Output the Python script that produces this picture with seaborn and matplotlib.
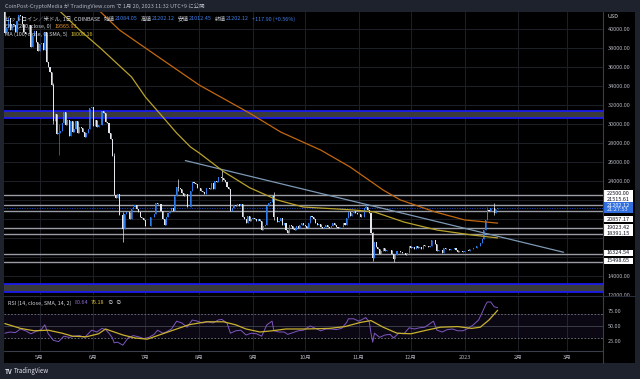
import numpy as np
import pandas as pd
import matplotlib
matplotlib.use('Agg')
import matplotlib.pyplot as plt
from matplotlib.patches import Rectangle
from matplotlib.lines import Line2D
from matplotlib.transforms import blended_transform_factory
import seaborn as sns

# ---- データ (チャートから読み取り) ----
first_open = 42750
close_apr = [42150, 39530, 40070, 41150, 39940, 40550, 40410, 39720, 40830, 41500, 41370,
             40480, 39710, 39470, 39450, 40430, 38120, 39240, 39740, 38600, 37640]  # 4/10-4/30
close_may = [38470, 38530, 37750, 39690, 36550, 36010, 35470, 34060, 30300, 31020, 28940,
             29050, 29280, 30100, 31300, 29860, 30420, 28720, 30290, 29200, 29430, 30310,
             29100, 29650, 29540, 29200, 28630, 29030, 29470, 31730, 31800]
close_jun = [29800, 30450, 29700, 29860, 29910, 31370, 31130, 30210, 30110, 29090, 28380,
             26580, 22490, 22200, 22590, 20390, 20450, 19000, 20560, 20710, 20720, 19990,
             21100, 21230, 21500, 21030, 20730, 20250, 20100, 19930]
close_jul = [19300, 19250, 19300, 20230, 20190, 20550, 21640, 21580, 21590, 20850, 19960,
             19330, 20240, 20580, 20830, 21200, 20790, 22420, 23400, 23230, 23160, 22690,
             22450, 22580, 21310, 21250, 22950, 23850, 23780, 23640, 23300]
close_aug = [23270, 22990, 22820, 22620, 23310, 23260, 23170, 23810, 23160, 23950, 23940,
             24400, 24440, 24300, 24100, 23860, 23340, 23200, 20830, 21140, 21520, 21400,
             21530, 21370, 21560, 20240, 20030, 19550, 20290, 19800, 20050]
close_sep = [20130, 19950, 19830, 20000, 19800, 18790, 19290, 19320, 21370, 21650, 21830,
             22400, 20170, 20230, 19700, 19800, 20110, 19420, 19540, 18880, 18480, 19400,
             19290, 18920, 18800, 19220, 19080, 19410, 19590, 19420]
close_oct = [19310, 19060, 19630, 20340, 20160, 19960, 19530, 19420, 19450, 19130, 19060,
             19160, 19380, 19180, 19070, 19270, 19550, 19330, 19120, 19040, 19170, 19210,
             19570, 19330, 20090, 20770, 20290, 20600, 20820, 20630, 20490]
close_nov = [20480, 20160, 20210, 21150, 21300, 20910, 20590, 18540, 15880, 17590, 17070,
             16810, 16330, 16620, 16900, 16660, 16690, 16700, 16700, 16280, 15780, 16230,
             16600, 16600, 16520, 16460, 16440, 16220, 16440, 17170]
close_dec = [16980, 17090, 16890, 17110, 16970, 17090, 16840, 17220, 17130, 17130, 17090,
             17210, 17780, 17810, 17360, 16630, 16780, 16740, 16440, 16900, 16820, 16830,
             16780, 16840, 16830, 16920, 16710, 16540, 16630, 16600, 16540]
close_jan = [16620, 16680, 16670, 16850, 16830, 16950, 16940, 17120, 17180, 17440, 17940,
             18850, 19930, 20950, 20880, 21190, 21130, 20680, 21084.05, 21202.12]

# ヒゲ (安値, 高値) が目立つ日
wick_days = ['2022-05-09', '2022-05-12', '2022-06-13', '2022-06-18', '2022-07-20', '2022-08-14',
             '2022-09-13', '2022-11-05', '2022-11-09', '2022-11-21', '2023-01-14', '2023-01-18',
             '2023-01-20']
wick_low = [30000, 26700, 22600, 17600, 22900, 24000, 19900, 21100, 15600, 15480, 19900, 20400, 21012.45]
wick_high = [34300, 30000, 26900, 20700, 24250, 25200, 22800, 21480, 18600, 16300, 21260, 21650, 21202.12]

ema_dates = ['2022-05-31', '2022-06-16', '2022-07-01', '2022-08-01', '2022-08-30', '2022-09-17',
             '2022-10-10', '2022-10-27', '2022-11-15', '2022-11-25', '2022-12-15', '2023-01-01',
             '2023-01-20']
ema_vals = [42700, 39900, 38000, 34100, 31150, 29150, 27260, 25470, 23050, 22000, 20740, 19900, 19565.93]

sma_dates = ['2022-05-12', '2022-05-24', '2022-06-05', '2022-06-23', '2022-07-01', '2022-07-09',
             '2022-07-19', '2022-07-27', '2022-08-01', '2022-08-15', '2022-08-30', '2022-09-15',
             '2022-09-30', '2022-10-29', '2022-11-10', '2022-11-27', '2022-12-16', '2023-01-05',
             '2023-01-20']
sma_vals = [42000, 39900, 38000, 34950, 32840, 31160, 29050, 27580, 26950, 25000, 23300, 22000,
            21260, 20950, 20740, 19680, 18840, 18320, 18008.16]

trend_dates = ['2022-07-24', '2023-02-27']
trend_prices = [26150, 16500]

levels = [22500.00, 21515.61, 20857.17, 19023.42, 18391.15, 16324.54, 15498.65]
zone_top = [31400, 13190]
zone_bottom = [30600, 12280]
last_price = 21202.12
countdown = '21:27:53'

rsi_dates = ['2022-04-11', '2022-04-14', '2022-04-17', '2022-04-20', '2022-04-23', '2022-04-26',
             '2022-04-29', '2022-05-02', '2022-05-04', '2022-05-06', '2022-05-09', '2022-05-12',
             '2022-05-15', '2022-05-18', '2022-05-21', '2022-05-24', '2022-05-27', '2022-05-31',
             '2022-06-03', '2022-06-06', '2022-06-08', '2022-06-10', '2022-06-12', '2022-06-13',
             '2022-06-15', '2022-06-18', '2022-06-21', '2022-06-24', '2022-06-27', '2022-06-30',
             '2022-07-03', '2022-07-06', '2022-07-08', '2022-07-11', '2022-07-13', '2022-07-16',
             '2022-07-19', '2022-07-22', '2022-07-25', '2022-07-28', '2022-07-31', '2022-08-03',
             '2022-08-06', '2022-08-09', '2022-08-12', '2022-08-14', '2022-08-17', '2022-08-19',
             '2022-08-22', '2022-08-25', '2022-08-28', '2022-08-31', '2022-09-03', '2022-09-06',
             '2022-09-09', '2022-09-12', '2022-09-13', '2022-09-16', '2022-09-19', '2022-09-21',
             '2022-09-24', '2022-09-27', '2022-09-30', '2022-10-04', '2022-10-07', '2022-10-10',
             '2022-10-13', '2022-10-16', '2022-10-19', '2022-10-22', '2022-10-25', '2022-10-26',
             '2022-10-29', '2022-11-01', '2022-11-05', '2022-11-07', '2022-11-08', '2022-11-09',
             '2022-11-10', '2022-11-13', '2022-11-16', '2022-11-19', '2022-11-21', '2022-11-24',
             '2022-11-27', '2022-11-30', '2022-12-03', '2022-12-06', '2022-12-09', '2022-12-14',
             '2022-12-16', '2022-12-19', '2022-12-22', '2022-12-25', '2022-12-28', '2022-12-31',
             '2023-01-03', '2023-01-06', '2023-01-09', '2023-01-11', '2023-01-13', '2023-01-14',
             '2023-01-16', '2023-01-18', '2023-01-20']
rsi_vals = [38, 40, 39, 45, 42, 37, 41, 44, 52, 37, 26, 24, 33, 31, 33, 34, 31, 43, 40, 46,
            44, 38, 30, 22, 23, 18, 30, 34, 32, 29, 31, 36, 43, 38, 40, 45, 58, 55, 48, 60,
            58, 55, 57, 55, 60, 61, 55, 38, 42, 43, 35, 38, 37, 33, 52, 58, 42, 40, 40, 36,
            39, 42, 43, 50, 46, 42, 45, 45, 44, 46, 56, 62, 62, 58, 64, 57, 38, 23, 38, 31,
            35, 36, 30, 38, 37, 47, 45, 47, 48, 58, 43, 40, 44, 45, 42, 42, 46, 52, 60, 72,
            85, 90, 90, 82, 80.64]

rsi_ma_dates = ['2022-04-11', '2022-04-20', '2022-04-28', '2022-05-06', '2022-05-14', '2022-05-20',
                '2022-05-28', '2022-06-04', '2022-06-08', '2022-06-18', '2022-06-25', '2022-07-02',
                '2022-07-10', '2022-07-18', '2022-07-26', '2022-08-05', '2022-08-15', '2022-08-22',
                '2022-08-28', '2022-09-05', '2022-09-12', '2022-09-20', '2022-10-01', '2022-10-15',
                '2022-10-24', '2022-11-02', '2022-11-08', '2022-11-15', '2022-11-23', '2022-12-01',
                '2022-12-10', '2022-12-18', '2022-12-28', '2023-01-05', '2023-01-10', '2023-01-15',
                '2023-01-20']
rsi_ma_vals = [54, 46, 42, 43, 38, 33, 32, 37, 45, 35, 30, 28, 36, 44, 52, 57, 57, 52, 45, 40,
               42, 45, 45, 46, 49, 56, 59, 48, 38, 37, 43, 48, 49, 46, 48, 60, 76.18]

month_labels = ['5月', '6月', '7月', '8月', '9月', '10月', '11月', '12月', '2023', '2月', '3月']

# ---- スタイル ----
sns.set_style('dark')
plt.rcParams['font.family'] = ['Noto Sans CJK JP', 'DejaVu Sans']
plt.rcParams['axes.unicode_minus'] = False

UP, DOWN = '#2f7ce8', '#e3e6ec'
GRID = '#1d2027'
TXT = '#b2b5be'
LEG = '#d1d4dc'
FS = 4.0

closes = np.array(close_apr + close_may + close_jun + close_jul + close_aug + close_sep +
                  close_oct + close_nov + close_dec + close_jan, dtype=float)
dates = pd.date_range('2022-04-10', periods=len(closes), freq='D')
opens = np.r_[first_open, closes[:-1]]
df = pd.DataFrame({'open': opens, 'close': closes,
                   'low': np.minimum(opens, closes), 'high': np.maximum(opens, closes)}, index=dates)
for d, lo, hi in zip(wick_days, wick_low, wick_high):
    df.loc[d, 'low'] = lo
    df.loc[d, 'high'] = hi

W, H = 640, 379
fig = plt.figure(figsize=(6.4, 3.79), dpi=100, facecolor='#1e222d')


def fx(px):
    return px / W


def fy(py):
    return 1 - py / H


bg = fig.add_axes([fx(4), fy(363), (635 - 4) / W, (363 - 12) / H])
bg.set_facecolor('black')
bg.set_xticks([])
bg.set_yticks([])
for s in bg.spines.values():
    s.set_visible(False)

ax = fig.add_axes([fx(4), fy(295), (603 - 4) / W, (295 - 12) / H])
axr = fig.add_axes([fx(4), fy(351), (603 - 4) / W, (351 - 296) / H])

xlim = (pd.Timestamp('2022-04-10 12:00'), pd.Timestamp('2023-03-21 17:00'))
months = pd.date_range('2022-05-01', '2023-03-01', freq='MS')

for a in (ax, axr):
    a.set_facecolor('black')
    for s in a.spines.values():
        s.set_visible(False)
    a.set_xlim(*xlim)
    a.set_xticks(months)
    a.grid(axis='x', color=GRID, lw=0.7)
    a.yaxis.tick_right()
    a.tick_params(axis='y', length=0, pad=3.4, labelsize=FS, labelcolor=TXT)

# ---- メインペイン ----
ax.set_ylim(12000, 41790)
ax.set_yticks(np.arange(12000, 40001, 2000))
ax.set_yticklabels(['' if 15000 < v < 23000 else f'{v:.2f}' for v in np.arange(12000, 40001, 2000)])
ax.grid(axis='y', color=GRID, lw=0.7)
ax.tick_params(axis='x', length=0, labelbottom=False)

for top, bot in zip(zone_top, zone_bottom):
    ax.axhspan(bot, top, color='#3b3b3b', lw=0, zorder=1)
    ax.axhline(top, color='#1a1aff', lw=1.2, zorder=2)
    ax.axhline(bot, color='#1a1aff', lw=1.2, zorder=2)

for lv in levels:
    ax.axhline(lv, color='#9a9da6', lw=1.0, zorder=2)
ax.axhline(last_price, color='#2962ff', lw=0.6, ls=(0, (1.5, 1.5)), alpha=0.8, zorder=2)

cols = np.where(df['close'] >= df['open'], UP, DOWN)
ax.vlines(df.index, df['low'], df['high'], colors=cols, lw=0.5, zorder=3)
ax.bar(df.index, np.maximum((df['close'] - df['open']).abs(), 30),
       bottom=np.minimum(df['open'], df['close']), width=0.62, color=cols, lw=0, zorder=3)

sns.lineplot(x=pd.to_datetime(trend_dates), y=trend_prices, ax=ax, color='#7d99b5', lw=0.9, zorder=4)
sns.lineplot(x=pd.to_datetime(ema_dates), y=ema_vals, ax=ax, color='#c2680e', lw=0.9, zorder=4)
sns.lineplot(x=pd.to_datetime(sma_dates), y=sma_vals, ax=ax, color='#b9a22c', lw=0.9, zorder=4)
ax.set_xlabel('')
ax.set_ylabel('')

# ---- RSI ペイン ----
axr.set_ylim(8.3, 100)
axr.set_yticks([25, 50, 75])
axr.set_yticklabels(['25.00', '50.00', '75.00'])
axr.axhspan(30, 70, color='#7e57c2', alpha=0.1, lw=0)
axr.axhline(70, color='#787b86', lw=0.6, ls=(0, (2, 2)))
axr.axhline(30, color='#787b86', lw=0.6, ls=(0, (2, 2)))
axr.axhline(50, color='#3a3c48', lw=0.7)
sns.lineplot(x=pd.to_datetime(rsi_dates), y=rsi_vals, ax=axr, color='#7e57c2', lw=0.7, zorder=4)
sns.lineplot(x=pd.to_datetime(rsi_ma_dates), y=rsi_ma_vals, ax=axr, color='#c9b22f', lw=0.9, zorder=4)
axr.set_xlabel('')
axr.set_ylabel('')
axr.set_xticklabels(month_labels)
axr.tick_params(axis='x', length=0, pad=2.6, labelsize=FS, labelcolor=TXT)

# ---- 区切り線 ----
fig.add_artist(Line2D([fx(603), fx(603)], [fy(12), fy(363)], color='#3a3e48', lw=0.8))
fig.add_artist(Line2D([fx(4), fx(635)], [fy(295.5), fy(295.5)], color='#2a2e39', lw=0.8))
fig.add_artist(Line2D([fx(4), fx(603)], [fy(351), fy(351)], color='#3a3e48', lw=0.8))

# ---- 価格ラベル ----
tr = blended_transform_factory(ax.transAxes, ax.transData)
upx = (41790 - 12000) / 283.0
bw = 30 / 599.0
tag_shift = [2.25, 5.6, -8.4, 1.1, 0.8, 1.4, 1.0]
for lv, sh in zip(levels, tag_shift):
    yc = lv + sh * upx
    ax.add_patch(Rectangle((1.0, yc - 3 * upx), bw, 6 * upx, transform=tr, fc='white', ec='none',
                           clip_on=False, zorder=10))
    ax.text(1.0 + 4 / 599, yc, f'{lv:.2f}', transform=tr, fontsize=FS, color='#131722',
            va='center', ha='left', clip_on=False, zorder=11)
ax.add_patch(Rectangle((1.0, last_price - 5.2 * upx), bw, 10.4 * upx, transform=tr, fc='#2f6fe0',
                       ec='none', clip_on=False, zorder=10))
ax.text(1.0 + 4 / 599, last_price + 2.3 * upx, f'{last_price:.2f}', transform=tr, fontsize=FS,
        color='white', va='center', ha='left', clip_on=False, zorder=11)
ax.text(1.0 + 4 / 599, last_price - 2.4 * upx, countdown, transform=tr, fontsize=FS,
        color='#e6ecff', va='center', ha='left', clip_on=False, zorder=11)
fig.text(fx(608), fy(17), 'USD', fontsize=FS, color=LEG, va='center', ha='left')

# ---- テキスト ----
renderer = fig.canvas.get_renderer()


def put_parts(x_px, y_px, parts, size):
    x = x_px
    for s, c, gap in parts:
        t = fig.text(fx(x), fy(y_px), s, color=c, fontsize=size, va='center', ha='left')
        x += t.get_window_extent(renderer=renderer).width + gap


fig.text(fx(5), fy(6), 'CoinPost-CryptoMedia が TradingView.com で 1月 20, 2023 11:32 UTC+9 に公開',
         fontsize=3.95, color=TXT, va='center', ha='left')

BLUE = '#3f7ee8'
LFS = 3.95
put_parts(5, 19, [('ビットコイン／米ドル, 1日, COINBASE', LEG, 3), ('始値', LEG, 0.3), ('21084.05', BLUE, 3),
                  ('高値', LEG, 0.3), ('21202.12', BLUE, 3), ('安値', LEG, 0.3), ('21012.45', BLUE, 3),
                  ('終値', LEG, 0.3), ('21202.12', BLUE, 3), ('+117.90 (+0.56%)', BLUE, 0)], LFS)
put_parts(5, 26.5, [('EMA (200, close, 0)', LEG, 3), ('19565.93', '#e8952f', 0)], LFS)
put_parts(5, 34, [('MA (100, close, 0, SMA, 5)', LEG, 3), ('18008.16', '#d9c23c', 0)], LFS)
put_parts(8, 303, [('RSI (14, close, SMA, 14, 2)', LEG, 3), ('80.64', '#8c6cd6', 3),
                   ('76.18', '#d9c23c', 3), ('∅', LEG, 2), ('∅', LEG, 0)], LFS)

put_parts(5, 371, [('TV', '#e0e3eb', 1.5), ('TradingView', '#e0e3eb', 0)], 4.4)
fig.texts[-2].set_fontweight('bold')

fig.savefig('out.png', dpi=100, facecolor=fig.get_facecolor())
